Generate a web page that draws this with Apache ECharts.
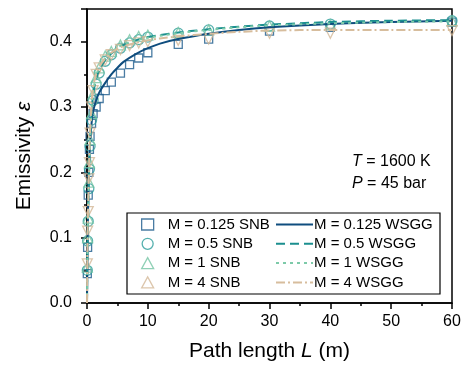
<!DOCTYPE html>
<html>
<head>
<meta charset="utf-8">
<script src="https://cdn.jsdelivr.net/npm/echarts@6/dist/echarts.min.js"></script>
<style>html,body{margin:0;padding:0;background:#fff;}#c{width:465px;height:370px;}</style>
</head>
<body>
<div id="c"></div>
<script>
// SNB path lengths (m)
const L_SNB = [0.05, 0.1, 0.2, 0.3, 0.4, 0.5, 0.75, 1, 1.5, 2, 3, 4, 5.5, 7, 8.5, 10, 15, 20, 30, 40, 60];
const snb_M0125 = [0.045, 0.085, 0.165, 0.20, 0.235, 0.255, 0.275, 0.29, 0.30, 0.313, 0.325, 0.338, 0.352, 0.365, 0.375, 0.383, 0.396, 0.404, 0.416, 0.422, 0.43];
const snb_M05   = [0.05, 0.095, 0.125, 0.175, 0.205, 0.24, 0.28, 0.31, 0.335, 0.352, 0.37, 0.38, 0.39, 0.398, 0.403, 0.407, 0.413, 0.418, 0.424, 0.427, 0.432];
const snb_M1    = [0.055, 0.10, 0.13, 0.185, 0.215, 0.25, 0.29, 0.32, 0.345, 0.36, 0.378, 0.385, 0.395, 0.403, 0.408, 0.41, 0.414, 0.418, 0.424, 0.426, 0.432];
const snb_M4    = [0.06, 0.11, 0.14, 0.19, 0.215, 0.26, 0.30, 0.325, 0.35, 0.36, 0.372, 0.38, 0.388, 0.394, 0.398, 0.40, 0.402, 0.404, 0.413, 0.413, 0.417];

// WSGG path lengths (m)
const L_WSGG = [0, 0.05, 0.1, 0.2, 0.3, 0.5, 0.75, 1, 1.5, 2, 3, 4, 5, 6, 8, 10, 12, 15, 20, 25, 30, 40, 50, 60];
const wsgg_M0125 = [0, 0.05, 0.09, 0.16, 0.20, 0.245, 0.275, 0.293, 0.31, 0.322, 0.337, 0.35, 0.36, 0.369, 0.381, 0.39, 0.397, 0.404, 0.412, 0.418, 0.422, 0.427, 0.43, 0.432];
const wsgg_M05   = [0, 0.055, 0.1, 0.14, 0.185, 0.245, 0.29, 0.318, 0.343, 0.356, 0.372, 0.382, 0.39, 0.395, 0.402, 0.407, 0.41, 0.414, 0.419, 0.423, 0.426, 0.43, 0.432, 0.433];
const wsgg_M1    = [0, 0.057, 0.103, 0.145, 0.19, 0.25, 0.295, 0.322, 0.347, 0.36, 0.375, 0.384, 0.391, 0.396, 0.402, 0.406, 0.409, 0.413, 0.418, 0.422, 0.425, 0.428, 0.43, 0.431];
const wsgg_M4    = [0, 0.06, 0.11, 0.15, 0.195, 0.26, 0.305, 0.33, 0.35, 0.362, 0.374, 0.383, 0.389, 0.393, 0.398, 0.402, 0.405, 0.408, 0.412, 0.415, 0.417, 0.418, 0.418, 0.418];

const snbNames  = ['M = 0.125 SNB', 'M = 0.5 SNB', 'M = 1 SNB', 'M = 4 SNB'];
const wsggNames = ['M = 0.125 WSGG', 'M = 0.5 WSGG', 'M = 1 WSGG', 'M = 4 WSGG'];
const xTicks = [0, 10, 20, 30, 40, 50, 60];
const yTicks = [0.0, 0.1, 0.2, 0.3, 0.4];

const FONT = '"Liberation Sans", Arial, sans-serif';
const markerColors = ['#1d5b8c', '#2a9c9a', '#74c4a4', '#d3b897'];
const lineColors = ['#0f4d7e', '#1b8f8f', '#7dcaa9', '#d7bd9d'];
const symbols = ['rect', 'circle', 'triangle', 'triangle'];
const rotations = [0, 0, 0, 180];
const lineTypes = ['solid', [9, 5], [3, 4], [9, 3, 2, 3]];

const pair = (xs, ys) => xs.map((x, i) => [x, ys[i]]);
const snbData = [snb_M0125, snb_M05, snb_M1, snb_M4];
const wsggData = [wsgg_M0125, wsgg_M05, wsgg_M1, wsgg_M4];

const series = [];
snbData.forEach((d, i) => {
  series.push({
    name: snbNames[i], type: 'scatter', data: pair(L_SNB, d),
    symbol: symbols[i], symbolRotate: rotations[i], symbolSize: i === 0 ? 8 : 10,
    itemStyle: { color: 'rgba(255,255,255,0)', borderColor: markerColors[i], borderWidth: 1.3 },
    z: 2
  });
});
wsggData.forEach((d, i) => {
  series.push({
    name: wsggNames[i], type: 'line', data: pair(L_WSGG, d), smooth: 0.3,
    showSymbol: false, symbol: 'none',
    lineStyle: { color: lineColors[i], width: 2, type: lineTypes[i] },
    itemStyle: { color: lineColors[i] },
    z: 3
  });
});

const snbLegend = snbNames.map((n, i) => ({
  name: n, icon: symbols[i], symbolRotate: rotations[i],
  itemStyle: { color: 'rgba(255,255,255,0)', borderColor: markerColors[i], borderWidth: 1.3 }
}));
const wsggLegend = wsggNames.map((n, i) => ({
  name: n, itemStyle: { opacity: 0 },
  lineStyle: { color: lineColors[i], width: 2, type: lineTypes[i] }
}));

const chart = echarts.init(document.getElementById('c'), null, { renderer: 'canvas' });
chart.setOption({
  animation: false,
  backgroundColor: '#fff',
  grid: { left: 87, right: 13, top: 9, bottom: 67, show: true, borderColor: '#000', borderWidth: 1.5, backgroundColor: 'transparent' },
  xAxis: {
    type: 'value', min: 0, max: 60, interval: 10,
    name: 'Path length {i|L} (m)', nameLocation: 'middle', nameGap: 38,
    nameTextStyle: { fontFamily: FONT, fontSize: 21, color: '#000', rich: { i: { fontStyle: 'italic', fontFamily: FONT, fontSize: 21, color: '#000' } } },
    axisLine: { lineStyle: { color: '#000', width: 1.5 } },
    axisTick: { show: true, inside: false, length: 6, lineStyle: { color: '#000', width: 1.5 } },
    minorTick: { show: true, splitNumber: 2, length: 3, lineStyle: { color: '#000', width: 1.5 } },
    splitLine: { show: false },
    axisLabel: { fontFamily: FONT, fontSize: 16, color: '#000', margin: 11,
      formatter: v => xTicks.includes(v) ? String(v) : '' }
  },
  yAxis: {
    type: 'value', min: 0, max: 0.45, interval: 0.1,
    name: 'Emissivity {i|ε}', nameLocation: 'middle', nameGap: 52, nameRotate: 90,
    nameTextStyle: { fontFamily: FONT, fontSize: 21, color: '#000', rich: { i: { fontStyle: 'italic', fontFamily: FONT, fontSize: 21, color: '#000' } } },
    axisLine: { show: true, lineStyle: { color: '#000', width: 1.5 } },
    axisTick: { show: true, inside: false, length: 6, lineStyle: { color: '#000', width: 1.5 } },
    minorTick: { show: true, splitNumber: 2, length: 3, lineStyle: { color: '#000', width: 1.5 } },
    splitLine: { show: false },
    axisLabel: { fontFamily: FONT, fontSize: 16, color: '#000', margin: 15, showMaxLabel: false,
      formatter: v => yTicks.some(t => Math.abs(t - v) < 1e-9) ? v.toFixed(1) : '' }
  },
  legend: [
    { left: 141, top: 217, orient: 'vertical', itemWidth: 12, itemHeight: 11, itemGap: 4.3, padding: 0,
      textStyle: { fontFamily: FONT, fontSize: 15, color: '#000', padding: [0, 0, 0, 9] },
      data: snbLegend, selectedMode: false },
    { left: 275, top: 217, orient: 'vertical', itemWidth: 37, itemHeight: 11, itemGap: 4.3, padding: 0,
      textStyle: { fontFamily: FONT, fontSize: 15, color: '#000', padding: [0, 0, 0, -4] },
      data: wsggLegend, selectedMode: false }
  ],
  graphic: [
    { type: 'rect', shape: { x: 127, y: 213, width: 313, height: 81 }, style: { fill: 'none', stroke: '#000', lineWidth: 1.2 }, z: 1 },
    { type: 'text', left: 352, top: 154, style: { text: '{i|T} = 1600 K', font: '16px ' + FONT, fill: '#000',
      rich: { i: { fontStyle: 'italic', fontFamily: FONT, fontSize: 16, fill: '#000' } } } },
    { type: 'text', left: 352, top: 176, style: { text: '{i|P} = 45 bar', font: '16px ' + FONT, fill: '#000',
      rich: { i: { fontStyle: 'italic', fontFamily: FONT, fontSize: 16, fill: '#000' } } } }
  ],
  series: series
});
</script>
</body>
</html>
